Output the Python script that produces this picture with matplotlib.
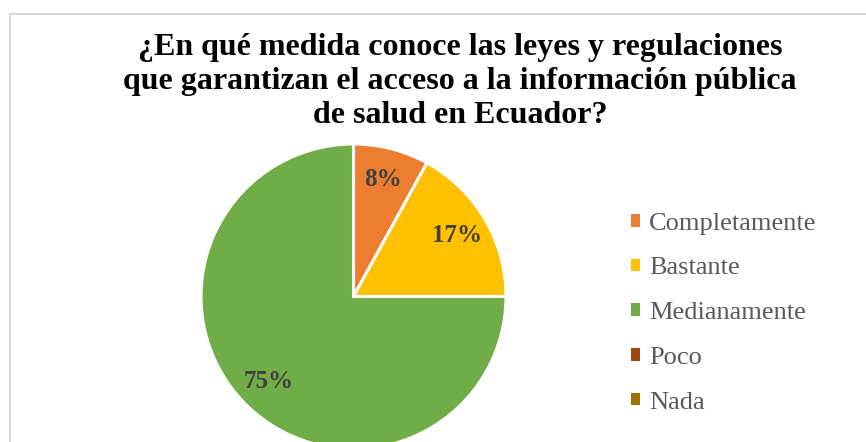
import matplotlib.pyplot as plt
from matplotlib.patches import Patch, Rectangle

categorias = ["Completamente", "Bastante", "Medianamente", "Poco", "Nada"]
porcentajes = [8, 17, 75, 0, 0]
colores = ["#ED7D31", "#FFC000", "#70AD47", "#9E480E", "#997300"]
titulo = ("¿En qué medida conoce las leyes y regulaciones\n"
          "que garantizan el acceso a la información pública\n"
          "de salud en Ecuador?")

W, H = 866, 442
fig = plt.figure(figsize=(W / 100, H / 100), dpi=100)
fig.patch.set_facecolor("white")

# pie center and radius in pixels
cx, cy, r = 353.5, H - 296.5, 152.5
ax = fig.add_axes([0, 0, 1, 1])


def etiqueta(p):
    return "%d%%" % round(p) if p > 0.5 else ""


wedges, textos, autotextos = ax.pie(
    porcentajes, colors=colores, startangle=90, counterclock=False,
    autopct=etiqueta, pctdistance=0.79,
    wedgeprops=dict(edgecolor="white", linewidth=2.2),
    textprops=dict(family="Liberation Serif", fontweight="bold",
                   fontsize=18, color="#404040"))
ax.set_aspect("auto")
ax.set_xlim(-cx / r, (W - cx) / r)
ax.set_ylim(-cy / r, (H - cy) / r)
ax.axis("off")

# chart border
fig.patches.append(Rectangle((9.5 / W, -0.1), 2, (H - 13.5) / H + 0.1,
                             transform=fig.transFigure, fill=False,
                             edgecolor="#D9D9D9", linewidth=1.5))

fig.text(460 / W, 1 - 81.5 / H, titulo, ha="center", va="center",
         family="Liberation Serif", fontweight="bold", fontsize=23,
         color="black", linespacing=1.24)

handles = [Patch(facecolor=c, edgecolor="none") for c in colores]
leg = fig.legend(handles, categorias, loc="upper left",
                 bbox_to_anchor=(607 / W, 1 - 189 / H),
                 frameon=False, handlelength=0.35, handleheight=0.35,
                 handletextpad=0.35, labelspacing=0.86,
                 prop=dict(family="Liberation Serif", size=19))
for t in leg.get_texts():
    t.set_color("#595959")

fig.savefig("out.png", dpi=100)
